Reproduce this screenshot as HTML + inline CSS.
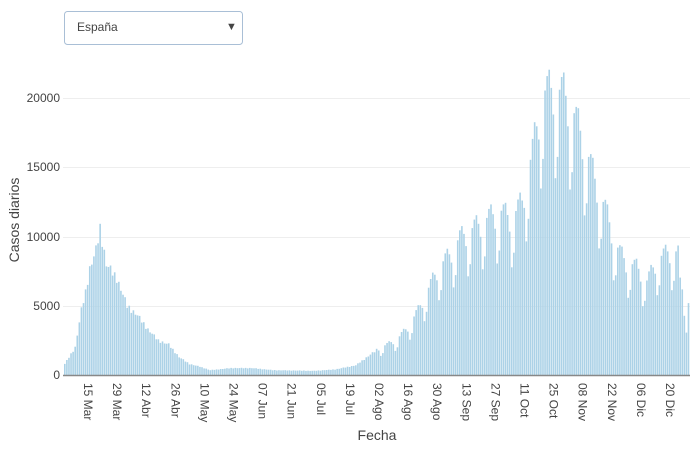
<!DOCTYPE html>
<html><head><meta charset="utf-8"><style>
body{margin:0;background:#fff;font-family:"Liberation Sans",sans-serif}
</style></head><body>
<svg id="s" width="700" height="450" xmlns="http://www.w3.org/2000/svg" font-family="Liberation Sans, sans-serif">
<rect x="64.5" y="11.5" width="178" height="33" rx="3" fill="#fff" stroke="#a9bfd6"/>
<text x="77" y="31" font-size="12" fill="#444">España</text>
<text x="226" y="30" font-size="11" fill="#444">▼</text>
<g stroke="#eeeeee" stroke-width="1">
<line x1="63" x2="690" y1="98.5" y2="98.5"/><line x1="63" x2="690" y1="167.5" y2="167.5"/>
<line x1="63" x2="690" y1="237.5" y2="237.5"/><line x1="63" x2="690" y1="306.5" y2="306.5"/>
</g>
<g font-size="12" fill="#444" text-anchor="end">
<text x="60" y="102">20000</text><text x="60" y="171">15000</text><text x="60" y="241">10000</text><text x="60" y="310">5000</text><text x="60" y="379">0</text>
</g>
<text transform="translate(19,220) rotate(-90)" font-size="14" fill="#444" text-anchor="middle">Casos diarios</text>
<text x="377" y="440" font-size="14" fill="#444" text-anchor="middle">Fecha</text>
<g id="bars" fill="#acd2e7"></g>
<line x1="63" x2="690" y1="375.5" y2="375.5" stroke="#888" stroke-width="1.5"/>
<g id="ticks" font-size="12" fill="#444"></g>
</svg>
<script>
var kp=[[0,800],[5,2000],[8,4700],[10,6000],[12,7700],[15,9000],[17,10600],[20,8000],[25,7000],[30,5000],[35,4300],[40,3300],[45,2500],[50,2200],[55,1300],[60,800],[65,600],[70,350],[80,500],[90,500],[100,350],[120,300],[130,400],[140,700],[150,1800],[155,2100],[160,2500],[165,3300],[170,4500],[175,6000],[180,7500],[185,8300],[190,9500],[195,10000],[200,10500],[205,11000],[210,11300],[215,10800],[220,12000],[225,15500],[230,19500],[235,19800],[240,19500],[245,18000],[250,16000],[255,13500],[260,11500],[265,9000],[270,7800],[275,7500],[280,6500],[285,8000],[290,8500],[295,8500],[297,6000],[299,3000],[300,5300]];
function env(d){for(var i=0;i<kp.length-1;i++){if(d<=kp[i+1][0]){var a=kp[i],b=kp[i+1];return a[1]+(b[1]-a[1])*(d-a[0])/(b[0]-a[0]);}}return kp[kp.length-1][1];}
var wf=[1.05,1.1,1.12,1.05,0.95,0.72,0.8];
var sf=[1.0,1.04,0.97,1.03,0.95,1.02,0.98];
var g=document.getElementById('bars'),h='';
for(var d=0;d<=300;d++){var v=env(d)*(d>=150&&d<296?wf[d%7]:sf[d%7]);var x=64+d*2.079;var y=375-v*277/20000;h+='<rect x="'+x.toFixed(2)+'" y="'+y.toFixed(1)+'" width="1.6" height="'+(375-y).toFixed(1)+'"/>';}
g.innerHTML=h;
var labs=["15 Mar","29 Mar","12 Abr","26 Abr","10 May","24 May","07 Jun","21 Jun","05 Jul","19 Jul","02 Ago","16 Ago","30 Ago","13 Sep","27 Sep","11 Oct","25 Oct","08 Nov","22 Nov","06 Dic","20 Dic"];
var t='';for(var i=0;i<labs.length;i++){var x=88+i*29.1;t+='<text transform="translate('+(x-4)+',383) rotate(90)">'+labs[i]+'</text>';}
document.getElementById('ticks').innerHTML=t;
</script>
</body></html>
